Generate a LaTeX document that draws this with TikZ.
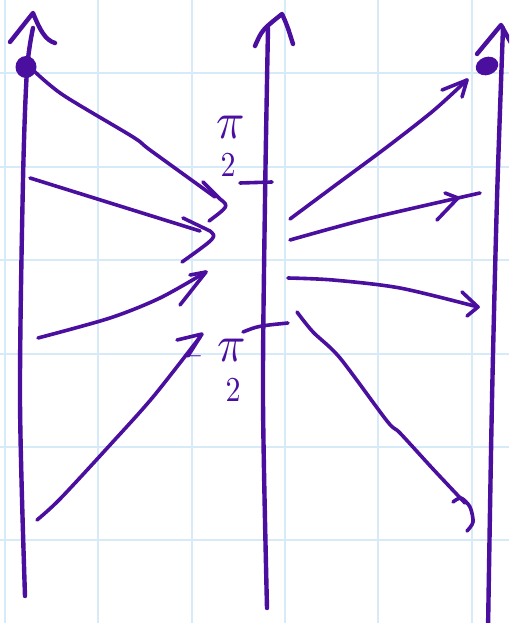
\documentclass[tikz,border=0pt]{standalone}
\usepackage{graphicx}
\definecolor{penc}{RGB}{75,15,160}
\definecolor{gridc}{RGB}{214,234,248}
\begin{document}
\begin{tikzpicture}[x=1pt,y=-1pt,
  pen/.style={draw=penc, line width=3.6pt, line cap=round, line join=round},
  axisline/.style={pen, line width=4.4pt},
  gridline/.style={draw=gridc, line width=2.6pt},
  lbl/.style={text=penc, inner sep=0pt}]
\useasboundingbox (0,0) rectangle (509,623);
\clip (0,0) rectangle (509,623);
\fill[white] (0,0) rectangle (509,623);
% grid paper
\foreach \x in {5,98,192,285,378,472} \draw[gridline] (\x,0) -- (\x,623);
\foreach \y in {73,167,260,354,447,540} \draw[gridline] (0,\y) -- (509,\y);
% axes
\draw[axisline] plot[smooth] coordinates {(25,596) (20,400) (23,180) (27,70) (33,28)};
\draw[axisline] (10,42) -- (33,13) .. controls (40,30) and (45,40) .. (55,43);
\draw[axisline] plot[smooth] coordinates {(267,608) (263,400) (265,200) (268,28)};
\draw[axisline] (255,46) .. controls (262,30) .. (282,14) .. controls (287,25) .. (293,44);
\draw[axisline] plot[smooth] coordinates {(488,630) (492,400) (497,199) (503,28)};
\draw[axisline] (477,54) -- (501,25) -- (515,50);
% dots
\fill[penc] (26,67) ellipse [x radius=10.5, y radius=11];
\fill[penc, rotate around={20:(487,66)}] (487,66) ellipse [x radius=11.5, y radius=9];
% ticks
\coordinate (t1a) at (240,183); \coordinate (t1b) at (272,182);
\draw[pen] (t1a) -- (t1b);
\coordinate (t2a) at (243,332); \coordinate (t2b) at (288,323);
\draw[pen] (t2a) .. controls (258,326) .. (t2b);
% labels
\node[lbl] (pi1) at (231,127) {\scalebox{4.7}[5.2]{$\pi$}};
\node[lbl] (two1) at (228,165) {\scalebox{3}[3.5]{$2$}};
\node[lbl] (pi2) at (232,350) {\scalebox{4.7}[5.2]{$\pi$}};
\node[lbl] (two2) at (233,390) {\scalebox{3}[3.5]{$2$}};
\node[lbl] (minus) at (195,356) {\scalebox{2}[2.5]{$-$}};
% left group of arrows
\coordinate (a1b1) at (203,182); \coordinate (a1h) at (220,199); \coordinate (a1b2) at (209,221);
\draw[pen] plot[smooth] coordinates {(33,70) (63,95) (133,137) (150,150) (215,197)};
\draw[pen] (a1b1) -- (a1h) .. controls (229,206) .. (a1b2);
\coordinate (a2s) at (30,178); \coordinate (a2e) at (200,231);
\coordinate (a2b1) at (183,218); \coordinate (a2h) at (210,231); \coordinate (a2b2) at (182,262);
\draw[pen] (a2s) -- (a2e);
\draw[pen] (a2b1) -- (a2h) .. controls (217,237) .. (a2b2);
\coordinate (a3b1) at (190,275); \coordinate (a3h) at (206,272); \coordinate (a3b2) at (180,305);
\draw[pen] plot[smooth] coordinates {(38,338) (110,318) (160,298) (206,272)};
\draw[pen] (a3b1) -- (a3h) -- (a3b2);
\coordinate (a4b1) at (177,340); \coordinate (a4h) at (202,334); \coordinate (a4b2) at (188,356);
\draw[pen] plot[smooth] coordinates {(37,520) (60,499) (110,445) (153,397) (200,337)};
\draw[pen] (a4b1) -- (a4h) -- (a4b2);
% right group of arrows
\coordinate (b1b1) at (442,90); \coordinate (b1h) at (467,80); \coordinate (b1b2) at (462,97);
\draw[pen] plot[smooth] coordinates {(290,219) (333,187) (387,147) (433,111) (467,80)};
\draw[pen] (b1b1) -- (b1h) -- (b1b2);
\coordinate (b2b1) at (445,193); \coordinate (b2h) at (458,198); \coordinate (b2b2) at (437,220);
\draw[pen] plot[smooth] coordinates {(290,240) (367,219) (480,193)};
\draw[pen] (b2b1) -- (b2h) -- (b2b2);
\coordinate (b3b1) at (462,292); \coordinate (b3h) at (478,307); \coordinate (b3b2) at (467,316);
\draw[pen] plot[smooth] coordinates {(288,278) (333,280) (400,288) (478,307)};
\draw[pen] (b3b1) -- (b3h) -- (b3b2);
\draw[pen] plot[smooth] coordinates {(297,312) (313,332) (340,358) (387,421) (400,433) (433,469) (465,503)};
\draw[pen] plot[smooth] coordinates {(453,502) (461,498) (470,507) (473,522) (467,531)};
\end{tikzpicture}
\end{document}
